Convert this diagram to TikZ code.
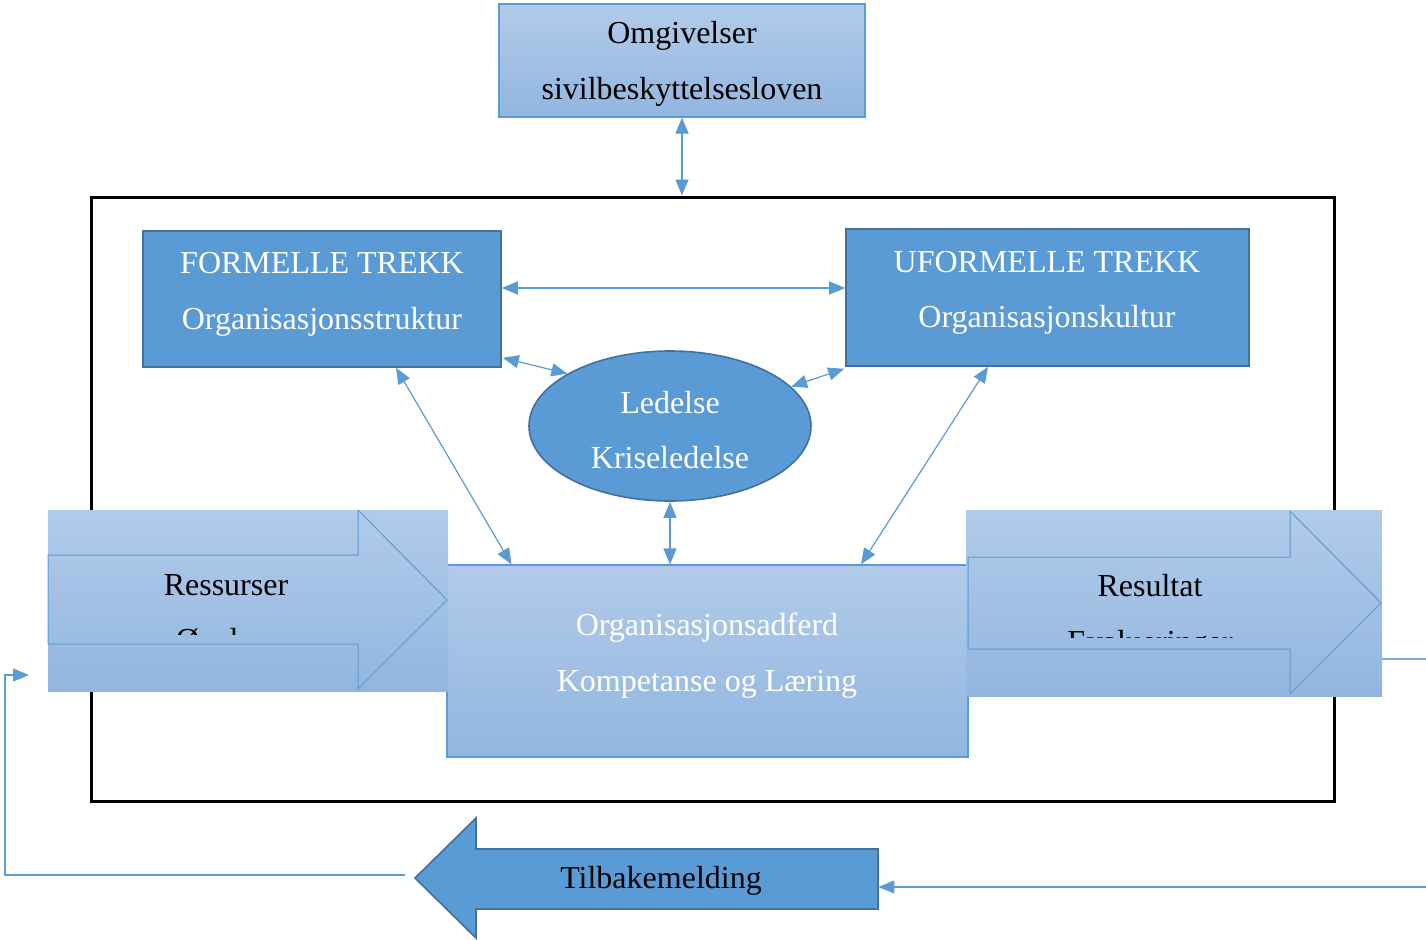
\documentclass[tikz,border=0pt]{standalone}
\usepackage{fontspec}
\setmainfont{Liberation Serif}
\usetikzlibrary{arrows.meta,shapes.geometric}
\definecolor{darkfill}{HTML}{5B9BD5}
\definecolor{darkborder}{HTML}{41719C}
\definecolor{lighttop}{HTML}{B1CBE9}
\definecolor{lightbot}{HTML}{92B6E0}
\definecolor{lineblue}{HTML}{5B9BD5}
\tikzset{
  lightbox/.style={draw=lineblue, line width=0.6pt, top color=lighttop, bottom color=lightbot, inner sep=0pt},
  plainlight/.style={top color=lighttop, bottom color=lightbot, inner sep=0pt},
  darkbox/.style={draw=darkborder, line width=0.8pt, fill=darkfill, inner sep=0pt},
  txt/.style={font=\fontsize{16}{27.8}\selectfont, align=center, inner sep=0pt},
  conn/.style={draw=lineblue, line width=0.6pt, {Triangle[length=8pt,width=6.5pt]}-{Triangle[length=8pt,width=6.5pt]}},
  oneway/.style={draw=lineblue, line width=0.6pt, -{Triangle[length=8pt,width=6.5pt]}},
  plainline/.style={draw=lineblue!80, line width=0.6pt}
}
\begin{document}
\begin{tikzpicture}[x=0.5pt,y=-0.5pt]
\useasboundingbox (0,0) rectangle (1426,939);
% outer frame
\node[draw=black, line width=1.5pt, minimum width=621.5pt, minimum height=302pt, inner sep=0pt] (frame) at (712.5,499) {};
% top box
\node[lightbox, minimum width=183pt, minimum height=56.5pt] (omg) at (682,60.5) {};
\node[txt] (omgtxt) at (682,64) {Omgivelser\\sivilbeskyttelsesloven};
% formal / informal boxes
\node[darkbox, minimum width=179pt, minimum height=68pt] (formelle) at (322,299) {};
\node[txt, text=white] (formtxt) at (322,294.5) {FORMELLE TREKK\\Organisasjonsstruktur};
\node[darkbox, minimum width=201.5pt, minimum height=68.5pt] (uformelle) at (1047.5,297.5) {};
\node[txt, text=white] (uformtxt) at (1047,293) {UFORMELLE TREKK\\Organisasjonskultur};
% ellipse
\node[darkbox, ellipse, minimum width=141pt, minimum height=75pt] (led) at (670,426) {};
\node[txt, text=white] (ledtxt) at (670,430) {Ledelse\\Kriseledelse};
% centre box
\node[lightbox, minimum width=260.5pt, minimum height=96pt] (org) at (707.5,661) {};
\node[txt, text=white] (orgtxt) at (707,655.5) {Organisasjonsadferd\\Kompetanse og Læring};
% Ressurser
\node[plainlight, minimum width=200pt, minimum height=90.5pt] (ress) at (248,600.5) {};
\draw[lineblue, line width=0.5pt] (48,555) -- (358,555) -- (358,510) -- (447,600) -- (358,689) -- (358,644) -- (48,644) -- cycle;
\begin{scope}
\clip (48,510) rectangle (448,634);
\node[txt] (resstxt) at (226,613) {Ressurser\\Øvelser};
\end{scope}
% Resultat
\node[plainlight, minimum width=208pt, minimum height=93pt] (res) at (1174,603) {};
\draw[lineblue, line width=0.5pt] (968,557) -- (1290,557) -- (1290,511) -- (1381,603) -- (1290,694) -- (1290,649) -- (968,649) -- cycle;
\begin{scope}
\clip (966,510) rectangle (1382,637);
\node[txt] (restxt) at (1150,617) {Resultat\\Evalueringer};
\end{scope}
% Tilbakemelding arrow
\draw[darkbox] (415,878) -- (476,818) -- (476,849) -- (878,849) -- (878,909) -- (476,909) -- (476,938) -- cycle;
\node[minimum width=201pt, minimum height=30pt, inner sep=0pt] (tilb) at (677,879) {};
\node[txt] (tilbtxt) at (661,881) {Tilbakemelding};
% connectors
\draw[conn] (omg.south) -- (omg.south |- frame.north);
\draw[conn] ([yshift=5.5pt]formelle.east) -- ([yshift=4.75pt]uformelle.west);
\draw[conn] ([yshift=5pt,xshift=0.5pt]formelle.south east) -- (led.153.7);
\draw[conn] ([xshift=-0.5pt,yshift=-1pt]uformelle.south west) -- (led.18);
\draw[conn] ([xshift=37pt]formelle.south) -- ([xshift=-98pt]org.north);
\draw[conn] ([xshift=-29.75pt]uformelle.south) -- ([xshift=76.75pt]org.north);
\draw[conn] (led.south) -- (led.south |- org.north);
% feedback loop
\coordinate (rightout) at (1426,659);
\coordinate (rightin) at (1426,887);
\coordinate (leftstart) at (405,875);
\coordinate (leftcorner) at (5,875);
\coordinate (leftend) at (29,675);
\draw[plainline] (res.east |- rightout) -- (rightout);
\draw[oneway] (rightin) -- ([yshift=-4pt]tilb.east);
\draw[oneway] (leftstart) -- (leftcorner) |- (leftend);
\end{tikzpicture}
\end{document}
